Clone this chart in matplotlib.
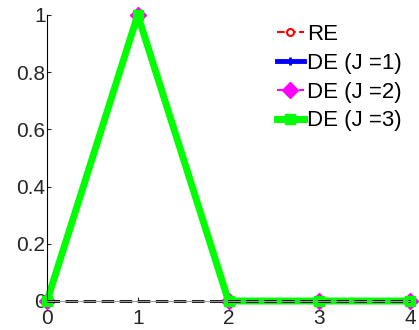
import numpy as np
import matplotlib.pyplot as plt

plt.rcParams['font.family'] = ['Liberation Sans', 'DejaVu Sans']

# данные
x = [0, 1, 2, 3, 4]
re_vals = [0, 1, 0, 0, 0]
de_j1 = [0, 1, 0, 0, 0]
de_j2 = [0, 1, 0, 0, 0]
de_j3 = [0, 1, 0, 0, 0]
ref_vals = [0, 0, 0, 0, 0]

fig = plt.figure(figsize=(4.19, 3.30), dpi=100)
ax = fig.add_axes([47 / 419, 29 / 330, 363 / 419, 286 / 330])

ax.plot(x, re_vals, '--o', color='red', linewidth=1.5, markersize=5,
        markerfacecolor='white', markeredgewidth=1.5, label='RE')
ax.plot(x, de_j1, '-+', color='blue', linewidth=3.5, markersize=6,
        markeredgewidth=2, label='DE (J =1)')
ax.plot(x, de_j2, '-.D', color='magenta', linewidth=1.5, markersize=8,
        label='DE (J =2)')
ax.plot(x, de_j3, '-s', color='#00ff00', linewidth=5, markersize=7,
        label='DE (J =3)')
ax.plot(x, ref_vals, '--', color='black', linewidth=2, dashes=(4.5, 2))

ax.set_xlim(0, 4)
ax.set_ylim(0, 1)
ax.set_xticks(x)
ax.set_yticks([0, 0.2, 0.4, 0.6, 0.8, 1])
ax.set_yticklabels(['0', '0.2', '0.4', '0.6', '0.8', '1'])
ax.tick_params(direction='in', labelsize=15, length=3, colors='#262626')
ax.tick_params(axis='y', pad=1)
ax.tick_params(axis='x', pad=6)
for s in ['top', 'right']:
    ax.spines[s].set_visible(False)
ax.spines['bottom'].set_color('#999999')
ax.spines['left'].set_color('black')
ax.spines['left'].set_linewidth(0.8)
for a in ax.get_lines():
    a.set_clip_on(False)

ax.legend(loc='upper left', bbox_to_anchor=(277 / 419, 1 - 24 / 330),
          bbox_transform=fig.transFigure, frameon=False, fontsize=16,
          handlelength=1.2, handletextpad=0.15, labelspacing=0.35,
          borderaxespad=0, borderpad=0)

fig.savefig('out.png', dpi=100)
